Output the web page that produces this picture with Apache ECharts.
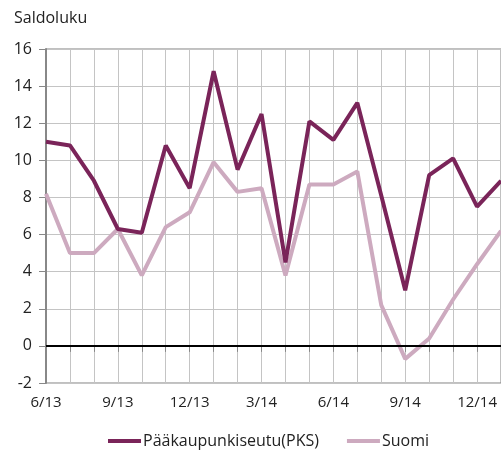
<!DOCTYPE html>
<html>
<head>
<meta charset="utf-8">
<script src="https://cdn.jsdelivr.net/npm/echarts@6/dist/echarts.min.js"></script>
<style>
  html, body { margin: 0; padding: 0; background: #fff; }
  #chart { width: 501px; height: 456px; }
</style>
</head>
<body>
<div id="chart"></div>
<script>
// kuukaudet 6/13 - 1/15
const months = ['6/13', '7/13', '8/13', '9/13', '10/13', '11/13', '12/13', '1/14', '2/14', '3/14',
  '4/14', '5/14', '6/14', '7/14', '8/14', '9/14', '10/14', '11/14', '12/14', '1/15']
const seriesNames = ['Pääkaupunkiseutu(PKS)', 'Suomi']
const pksValues = [11.0, 10.8, 8.9, 6.3, 6.1, 10.8, 8.5, 14.8, 9.5, 12.5,
  4.5, 12.1, 11.1, 13.1, 8.1, 3.0, 9.2, 10.1, 7.5, 8.9]
const suomiValues = [8.2, 5.0, 5.0, 6.3, 3.8, 6.4, 7.2, 9.9, 8.3, 8.5,
  3.8, 8.7, 8.7, 9.4, 2.2, -0.7, 0.4, 2.5, 4.4, 6.2]
const yTitle = 'Saldoluku'

const font = '"Open Sans", sans-serif'
const colors = ['#7a2459', '#cdaabf']

let myChart = echarts.init(document.getElementById('chart'))
myChart.setOption({
  animation: false,
  textStyle: { fontFamily: font },
  title: {
    text: yTitle,
    left: 9,
    top: 5,
    textStyle: { fontSize: 16, fontWeight: 'normal', color: '#222', fontFamily: font }
  },
  grid: {
    left: 46,
    right: -5,
    top: 49,
    bottom: 73,
    show: true,
    borderColor: '#808080',
    borderWidth: 1
  },
  legend: {
    bottom: 2,
    left: 103,
    itemGap: 28,
    itemWidth: 33,
    itemHeight: 4,
    icon: 'rect',
    textStyle: { fontSize: 16, color: '#222', fontFamily: font, padding: [0, 0, 0, -3] },
    data: seriesNames
  },
  xAxis: {
    type: 'category',
    boundaryGap: false,
    data: months,
    axisLine: { lineStyle: { color: '#888', width: 2 } },
    axisTick: { show: true, interval: 0, length: 6, lineStyle: { color: '#888', width: 1 } },
    axisLabel: { interval: 2, color: '#222', fontSize: 15, margin: 12, fontFamily: font },
    splitLine: { show: true, interval: 0, lineStyle: { color: '#c4c4c4', width: 1 } }
  },
  yAxis: {
    type: 'value',
    min: -2,
    max: 16,
    interval: 2,
    axisLine: { show: true, lineStyle: { color: '#888', width: 2 } },
    axisTick: { show: true, length: 7, lineStyle: { color: '#888' } },
    axisLabel: { color: '#222', fontSize: 16, margin: 14, fontFamily: font },
    splitLine: { lineStyle: { color: '#c4c4c4', width: 1 } }
  },
  series: [
    {
      name: seriesNames[0],
      type: 'line',
      data: pksValues,
      symbol: 'none',
      z: 4,
      lineStyle: { width: 4, color: colors[0] },
      itemStyle: { color: colors[0] },
      markLine: {
        silent: true,
        symbol: 'none',
        label: { show: false },
        lineStyle: { color: '#000', width: 2, type: 'solid' },
        data: [{ yAxis: 0 }]
      }
    },
    {
      name: seriesNames[1],
      type: 'line',
      data: suomiValues,
      symbol: 'none',
      z: 3,
      lineStyle: { width: 4, color: colors[1] },
      itemStyle: { color: colors[1] }
    }
  ]
})
</script>
</body>
</html>
